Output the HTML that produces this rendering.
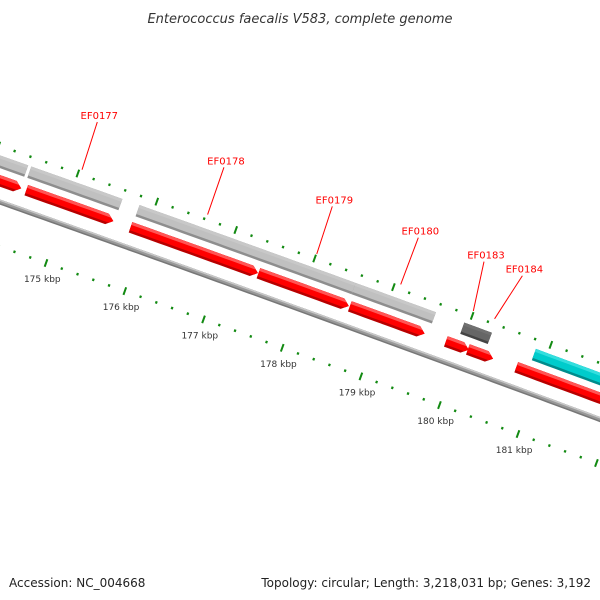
<!DOCTYPE html>
<html><head><meta charset="utf-8"><style>
html,body{margin:0;padding:0;background:#fff}
svg{display:block}
</style></head><body>
<svg id="map" width="600" height="600" viewBox="0 0 600 600" xmlns="http://www.w3.org/2000/svg">
<rect x="0" y="0" width="600" height="600" fill="#fff"/>
<g id="plot"></g>
<text x="300" y="23" text-anchor="middle" font-family="'DejaVu Sans','Liberation Sans',sans-serif" font-style="italic" font-size="13" fill="#333">Enterococcus faecalis V583, complete genome</text>
<text x="9" y="587" font-family="'DejaVu Sans','Liberation Sans',sans-serif" font-size="12" fill="#222">Accession: NC_004668</text>
<text x="591" y="587" text-anchor="end" font-family="'DejaVu Sans','Liberation Sans',sans-serif" font-size="12" fill="#222">Topology: circular; Length: 3,218,031 bp; Genes: 3,192</text>
</svg>
<script>
// ---- data ----
const genomeLength = 3218031;
const redStarts = [173900, 174487, 175808, 177430, 178590, 179810, 180090, 180705];
const redEnds   = [174423, 175590, 177423, 178577, 179540, 180100, 180410, 182500];
const grayStarts = [173900, 174449, 175820, 178560];
const grayEnds   = [174410, 175603, 178560, 179580];
const darkStarts = [179940];
const darkEnds   = [180290];
const cyanStarts = [180850];
const cyanEnds   = [182500];
const labelNames = ["EF0177","EF0178","EF0179","EF0180","EF0183","EF0184"];
const labelFeatureBp = [175032, 176622, 178006, 179071, 179993, 180263];
const labelTextBp = [175013, 176615, 177987, 179077, 179910, 180397];
const tickLabelKbp = [175,176,177,178,179,180,181];
const tickRangeStart = 172000, tickRangeEnd = 184000, minorStep = 200, majorStep = 1000;

// ---- geometry ----
const NS = "http://www.w3.org/2000/svg";
const plot = document.getElementById('plot');
const R = 42850;
const ang = bp => bp / genomeLength * 2 * Math.PI;
const a0 = ang(175000);
const cx = 46 - R * Math.sin(a0), cy = 263 + R * Math.cos(a0);
function P(bp, r){ const t = ang(bp); return [cx + r*Math.sin(t), cy - r*Math.cos(t)]; }
function edge(s, e, r){ const pts=[]; const n=Math.max(2,Math.ceil((e-s)/100)); for(let i=0;i<=n;i++){pts.push(P(s+(e-s)*i/n, r));} return pts; }
function ptsStr(p){ return p.map(q=>q[0].toFixed(2)+','+q[1].toFixed(2)).join(' '); }
function band(s,e,r1,r2){ return edge(s,e,r2).concat(edge(s,e,r1).reverse()); }
function arrowShape(s,e,r,h,ab){ const b=Math.max(s,e-ab); return edge(s,b,r+h/2).concat([P(e,r)]).concat(edge(s,b,r-h/2).reverse()); }
function poly(parent, pts, fill, name){
  const p=document.createElementNS(NS,'polygon');
  p.setAttribute('points', ptsStr(pts)); p.setAttribute('fill', fill);
  
  
  parent.appendChild(p); return p;
}
let clipId=0;
function feature(s,e,r,h,arrow,cMain,cLight,cDark,name){
  const g=document.createElementNS(NS,'g');
  
  
  const shape = arrow ? arrowShape(s,e,r,h,80) : band(s,e,r-h/2,r+h/2);
  const cp=document.createElementNS(NS,'clipPath'); const id='c'+(clipId++); cp.setAttribute('id',id);
  const cpp=document.createElementNS(NS,'polygon'); cpp.setAttribute('points',ptsStr(shape)); cp.appendChild(cpp); g.appendChild(cp);
  poly(g, shape, cDark, name+'-shadow');
  const inner=document.createElementNS(NS,'g'); inner.setAttribute('clip-path','url(#'+id+')'); g.appendChild(inner);
  poly(inner, band(s-50,e+50,r-h/2+2.5,r+h/2+1), cMain, name+'-body');
  if(cLight) poly(inner, band(s-50,e+50,r+h/2-3,r+h/2+1), cLight, name+'-highlight');
  plot.appendChild(g);
}

// backbone
const bb=document.createElementNS(NS,'g');


plot.appendChild(bb);
poly(bb, band(tickRangeStart,tickRangeEnd,R+39.5,R+44.5), '#777', 'backbone-shadow');
poly(bb, band(tickRangeStart,tickRangeEnd,R+41,R+44.5), '#999', 'backbone-body');
poly(bb, band(tickRangeStart,tickRangeEnd,R+43,R+44.5), '#c8c8c8', 'backbone-highlight');

// ticks
function tick(bp, r, len, name){
  const a=P(bp,r-len/2), b=P(bp,r+len/2);
  const l=document.createElementNS(NS,'line');
  l.setAttribute('x1',a[0]); l.setAttribute('y1',a[1]); l.setAttribute('x2',b[0]); l.setAttribute('y2',b[1]);
  l.setAttribute('stroke','#128a12'); l.setAttribute('stroke-width', len>4?2:2.2);
  
  
  plot.appendChild(l);
}
for(let bp=tickRangeStart; bp<=tickRangeEnd; bp+=minorStep){
  const major = bp % majorStep === 0;
  tick(bp, R, major?8:2.5, major?'inner-major-tick':'inner-minor-tick');
  tick(bp, R+95, major?8:2.5, major?'outer-major-tick':'outer-minor-tick');
}
tickLabelKbp.forEach(k=>{
  const p=P(k*1000, R-17);
  const t=document.createElementNS(NS,'text');
  t.setAttribute('x',p[0]+2); t.setAttribute('y',p[1]+3);
  t.setAttribute('text-anchor','middle'); t.setAttribute('font-size','9');
  t.setAttribute('font-family',"'DejaVu Sans','Liberation Sans',sans-serif"); t.setAttribute('fill','#333');
  t.textContent = k+' kbp';
  
  
  plot.appendChild(t);
});

// features
grayStarts.forEach((s,i)=>feature(s,grayEnds[i],R+80,12,false,'#c0c0c0','#c8c8c8','#8e8e8e','gray-feature-'+(i+1)));
darkStarts.forEach((s,i)=>feature(s,darkEnds[i],R+80,12,false,'#666','#707070','#444','dark-feature-'+(i+1)));
cyanStarts.forEach((s,i)=>feature(s,cyanEnds[i],R+80,12,false,'#00cccc','#33dede','#008c8c','cyan-feature-'+(i+1)));
redStarts.forEach((s,i)=>feature(s,redEnds[i],R+62,11,true,'#ff0000','#ff5555','#b80000','red-gene-'+(i+1)));

// feature labels
labelNames.forEach((nm,i)=>{
  const a=P(labelFeatureBp[i],R+100), b=P(labelTextBp[i],R+150);
  const l=document.createElementNS(NS,'line');
  l.setAttribute('x1',a[0]); l.setAttribute('y1',a[1]); l.setAttribute('x2',b[0]); l.setAttribute('y2',b[1]);
  l.setAttribute('stroke','#ff0000'); l.setAttribute('stroke-width','1');
  
  
  plot.appendChild(l);
  const t=document.createElementNS(NS,'text');
  t.setAttribute('x',b[0]+2); t.setAttribute('y',b[1]-3);
  t.setAttribute('text-anchor','middle'); t.setAttribute('font-size','10');
  t.setAttribute('font-family',"'DejaVu Sans','Liberation Sans',sans-serif"); t.setAttribute('fill','#ff0000');
  t.textContent=nm;
  
  
  plot.appendChild(t);
});
</script>
</body></html>
